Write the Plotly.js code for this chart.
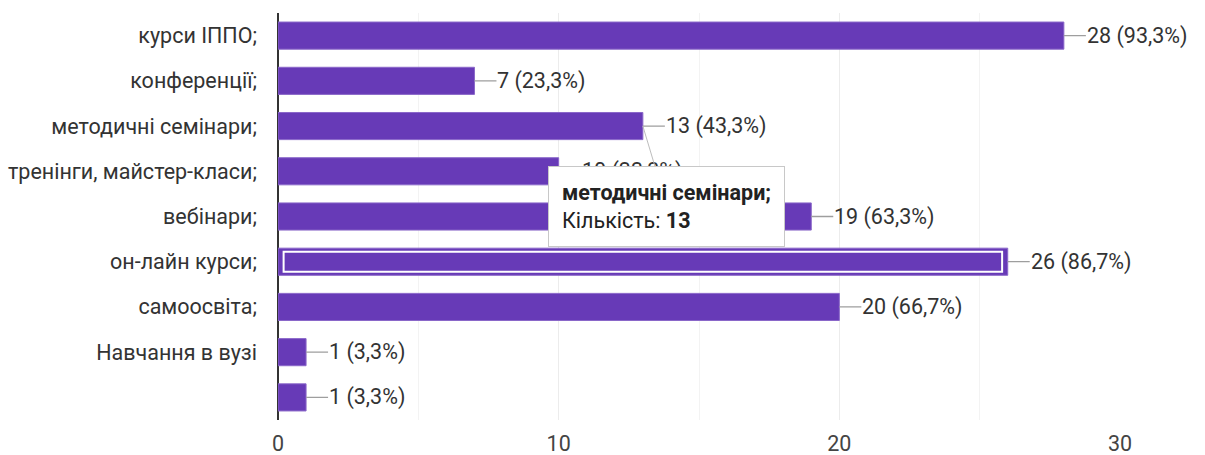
<!DOCTYPE html>
<html><head><meta charset="utf-8">
<script src="https://cdn.plot.ly/plotly-3.0.1.min.js"></script>
<style>body{margin:0;background:#fff}#c{width:1205px;height:455px}</style>
</head><body><div id="c"></div>
<script>
const categories = ["курси ІППО;", "конференції;", "методичні семінари;", "тренінги, майстер-класи;", "вебінари;", "он-лайн курси;", "самоосвіта;", "Навчання в вузі", ""];
const counts = [28, 7, 13, 10, 19, 26, 20, 1, 1];
const percents = ["93,3%", "23,3%", "43,3%", "33,3%", "63,3%", "86,7%", "66,7%", "3,3%", "3,3%"];
const xTicks = [0, 10, 20, 30];
const tooltipIndex = 2;
const selectedIndex = 5;
const countLabel = "Кількість:";

const idx = categories.map((_, i) => i);
const font = "Roboto, 'Liberation Sans', Arial, sans-serif";
const purple = "#673ab7";
const fs = 21.5;

const annotations = counts.map((v, i) => ({
  x: v, y: i, xref: 'x', yref: 'y',
  text: v + " (" + percents[i] + ")",
  showarrow: true, arrowhead: 0, arrowwidth: 1.3, arrowcolor: '#9e9e9e',
  ax: 22, ay: 0, xanchor: 'left', yanchor: 'middle',
  font: {family: font, size: fs, color: '#333'}, borderpad: 0
}));
annotations.push({
  x: counts[tooltipIndex], y: tooltipIndex, xref: 'x', yref: 'y',
  text: "<b>" + categories[tooltipIndex] + "</b><br>" + countLabel + " <b>" + counts[tooltipIndex] + "</b>",
  align: 'left', showarrow: true, arrowhead: 0, arrowwidth: 1, arrowcolor: '#bdbdbd',
  ax: 24, ay: 80, bgcolor: '#fff', bordercolor: '#c8c8c8', borderwidth: 1, borderpad: 13,
  font: {family: font, size: fs, color: '#222'}
});

const shapes = [{
  type: 'rect', xref: 'x', yref: 'y', layer: 'above',
  x0: 0.2, x1: counts[selectedIndex] - 0.2,
  y0: selectedIndex - 0.22, y1: selectedIndex + 0.22,
  line: {color: '#ffffff', width: 2}, fillcolor: 'rgba(0,0,0,0)'
}];

Plotly.newPlot('c', [{
  type: 'bar', orientation: 'h', x: counts, y: idx,
  marker: {color: purple, line: {color: '#8a67c9', width: 1}},
  width: 0.6, hoverinfo: 'none'
}], {
  width: 1205, height: 455,
  margin: {l: 278, r: 85, t: 13, b: 35},
  paper_bgcolor: '#fff', plot_bgcolor: '#fff',
  font: {family: font, size: fs, color: '#333'},
  showlegend: false,
  xaxis: {range: [0, 30], tickvals: xTicks, ticktext: xTicks.map(String),
    showgrid: true, gridcolor: '#ececec', gridwidth: 1,
    minor: {dtick: 5, tick0: 0, showgrid: true, gridcolor: '#f3f3f3', gridwidth: 1},
    zeroline: true, zerolinecolor: '#333', zerolinewidth: 2,
    showline: false, ticks: '', ticklabelstandoff: 8,
    tickfont: {family: font, size: fs, color: '#444'}, fixedrange: true},
  yaxis: {range: [8.5, -0.5], tickvals: idx, ticktext: categories,
    showgrid: false, zeroline: false, ticks: '', ticklabelstandoff: 20,
    tickfont: {family: font, size: fs, color: '#333'}, fixedrange: true},
  annotations: annotations, shapes: shapes
}, {displayModeBar: false, staticPlot: true});
</script></body></html>
